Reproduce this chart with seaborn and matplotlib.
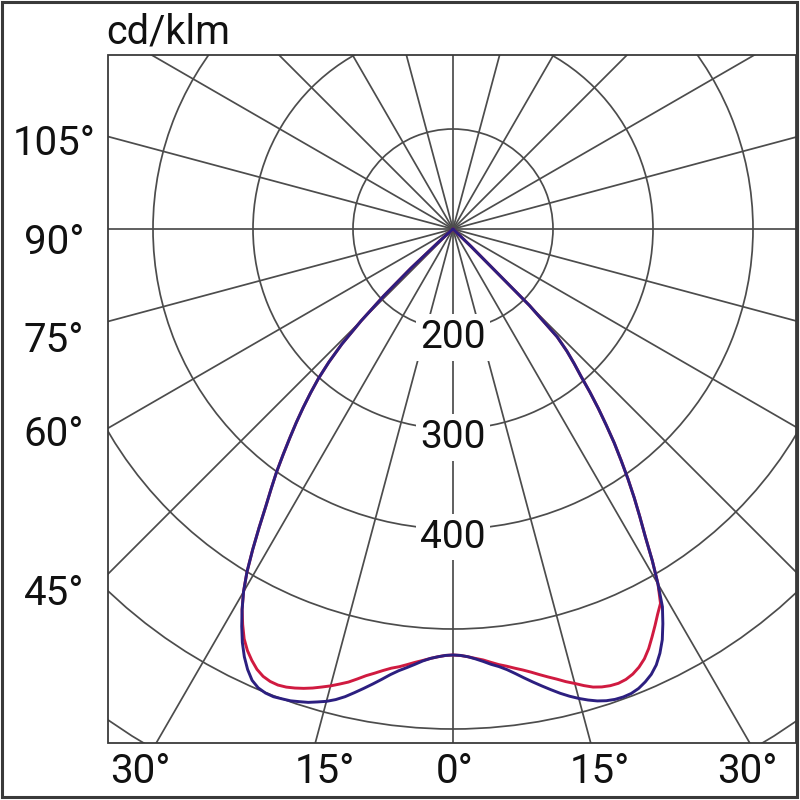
import numpy as np
import pandas as pd
import matplotlib
matplotlib.use("Agg")
import matplotlib.pyplot as plt
from matplotlib.patches import Rectangle
import seaborn as sns

# ---------------- data (cd/klm, angle from nadir in degrees) ----------------
side_angles = list(range(0, 49)) + [50, 60, 75, 90]

red_left = [526, 526.5, 528, 530, 532.5, 535, 538, 541, 543.5, 547, 551, 555, 560,
            565, 569, 573, 576.5, 580, 583, 585.5, 587.5, 588.5, 588, 586, 582, 576,
            569, 560, 548, 535, 519,
            500, 478, 456, 435, 417, 400, 382, 365, 349, 333, 317, 301, 282, 260,
            230, 196, 158, 118,
            100, 100, 100, 100]
blue_left = [526, 526.5, 528, 530, 533, 537, 541, 545, 550, 556, 562, 568, 574,
             580, 585, 589, 592, 595, 597, 599, 600, 601, 600.5, 598.5, 594, 586,
             576, 564, 550, 535, 519,
             500, 478, 456, 435, 417, 400, 382, 365, 349, 333, 317, 301, 282, 260,
             230, 196, 158, 118,
             100, 100, 100, 100]
red_right = [526, 526.5, 528, 530, 532, 535, 538, 540.5, 543.5, 546.5, 550, 554,
             558, 562, 566.5, 570.5, 575, 579, 581.5, 583, 583.5, 582.5, 580, 576,
             570.5, 563, 554, 545, 536, 528, 510,
             487, 463, 443, 424, 405, 386, 368, 349, 331, 313, 295, 281, 267, 250,
             208, 125, 100, 100,
             100, 100, 100, 100]
blue_right = [526, 526.5, 528, 530.5, 533.5, 537, 540, 544, 549, 554.5, 560, 565.5,
              571, 576.5, 581.5, 586, 590, 593.5, 596, 597.5, 598, 597.5, 595.5,
              592, 587.5, 581, 572, 561, 547, 532, 510,
              487, 463, 443, 424, 405, 386, 368, 349, 331, 313, 295, 281, 267, 250,
              208, 125, 100, 100,
              100, 100, 100, 100]

radial_ticks = [200, 300, 400, 500, 600, 700]
radial_labels = [200, 300, 400]
theta_ticks = list(range(0, 360, 15))
left_angle_labels = ["105°", "90°", "75°", "60°", "45°"]
bottom_angle_labels = ["30°", "15°", "0°", "15°", "30°"]
unit_label = "cd/klm"

RED = "#d01a40"
BLUE = "#2c1f80"
GRID = "#4c4c4c"


def full_curve(left, right):
    ang = [-a for a in side_angles[::-1]] + side_angles[1:]
    val = left[::-1] + right[1:]
    return np.deg2rad(ang), val


rt, rv = full_curve(red_left, red_right)
bt, bv = full_curve(blue_left, blue_right)
df_red = pd.DataFrame({"theta": rt, "I": rv})
df_blue = pd.DataFrame({"theta": bt, "I": bv})

# ---------------- figure ----------------
sns.set_style("white")
plt.rcParams["font.family"] = ["Roboto", "DejaVu Sans"]

W = 800
cx, cy = 453, 229          # pole position in pixels (from top-left)
R = 620                     # pixel radius of r = 720
fig = plt.figure(figsize=(8, 8), dpi=100)
fig.patch.set_facecolor("white")
ax = fig.add_axes([(cx - R) / W, (W - cy - R) / W, 2 * R / W, 2 * R / W],
                  projection="polar")
ax.set_zorder(1)
ax.set_theta_zero_location("S")
ax.set_theta_direction(1)

sns.lineplot(data=df_red, x="theta", y="I", sort=False, estimator=None, ax=ax,
             color=RED, linewidth=2.1, zorder=4, solid_joinstyle="round")
sns.lineplot(data=df_blue, x="theta", y="I", sort=False, estimator=None, ax=ax,
             color=BLUE, linewidth=2.1, zorder=4, solid_joinstyle="round")

ax.set_rlim(100, 720)
ax.set_xticks(np.deg2rad(theta_ticks))
ax.set_xticklabels([])
ax.set_yticks(radial_ticks)
ax.set_yticklabels([])
ax.grid(True, color=GRID, linewidth=1.25)
ax.spines["polar"].set_visible(False)
ax.set_xlabel("")
ax.set_ylabel("")

for v in radial_labels:
    ax.annotate(str(v), xy=(0, v), xytext=(0, -6), textcoords="offset points",
                ha="center", va="center", fontsize=28, color="#111111",
                bbox=dict(boxstyle="square,pad=0.12", fc="white", ec="none"),
                zorder=5)

# ---------------- overlay: mask outside the box, frame and labels ----------------
ov = fig.add_axes([0, 0, 1, 1], zorder=5)
ov.set_xlim(0, W)
ov.set_ylim(W, 0)
ov.axis("off")
ov.patch.set_alpha(0)
for (x, y, w, h) in [(0, 0, W, 55), (0, 0, 108, W), (0, 743, W, W - 743),
                     (796, 0, W - 796, W)]:
    ov.add_patch(Rectangle((x, y), w, h, fc="white", ec="none", clip_on=False))
ov.add_patch(Rectangle((108, 55), 688, 688, fill=False, ec="#3a3a3a", lw=1.3,
                       clip_on=False))
ov.add_patch(Rectangle((2, 2), 795, 795, fill=False, ec="#3a3a3a", lw=2.2,
                       clip_on=False))

ov.text(106, 43, unit_label, ha="left", va="baseline", fontsize=28.5,
        color="#111111")

left_baselines = [155, 254, 352, 446, 605]
for lab, yb in zip(left_angle_labels, left_baselines):
    ov.text(54, yb, lab, ha="center", va="baseline", fontsize=29, color="#111111")

bottom_centers = [140, 325, 455, 600, 747]
for lab, xc in zip(bottom_angle_labels, bottom_centers):
    ov.text(xc, 783, lab, ha="center", va="baseline", fontsize=29, color="#111111")

fig.savefig("out.png", dpi=100, facecolor="white")
